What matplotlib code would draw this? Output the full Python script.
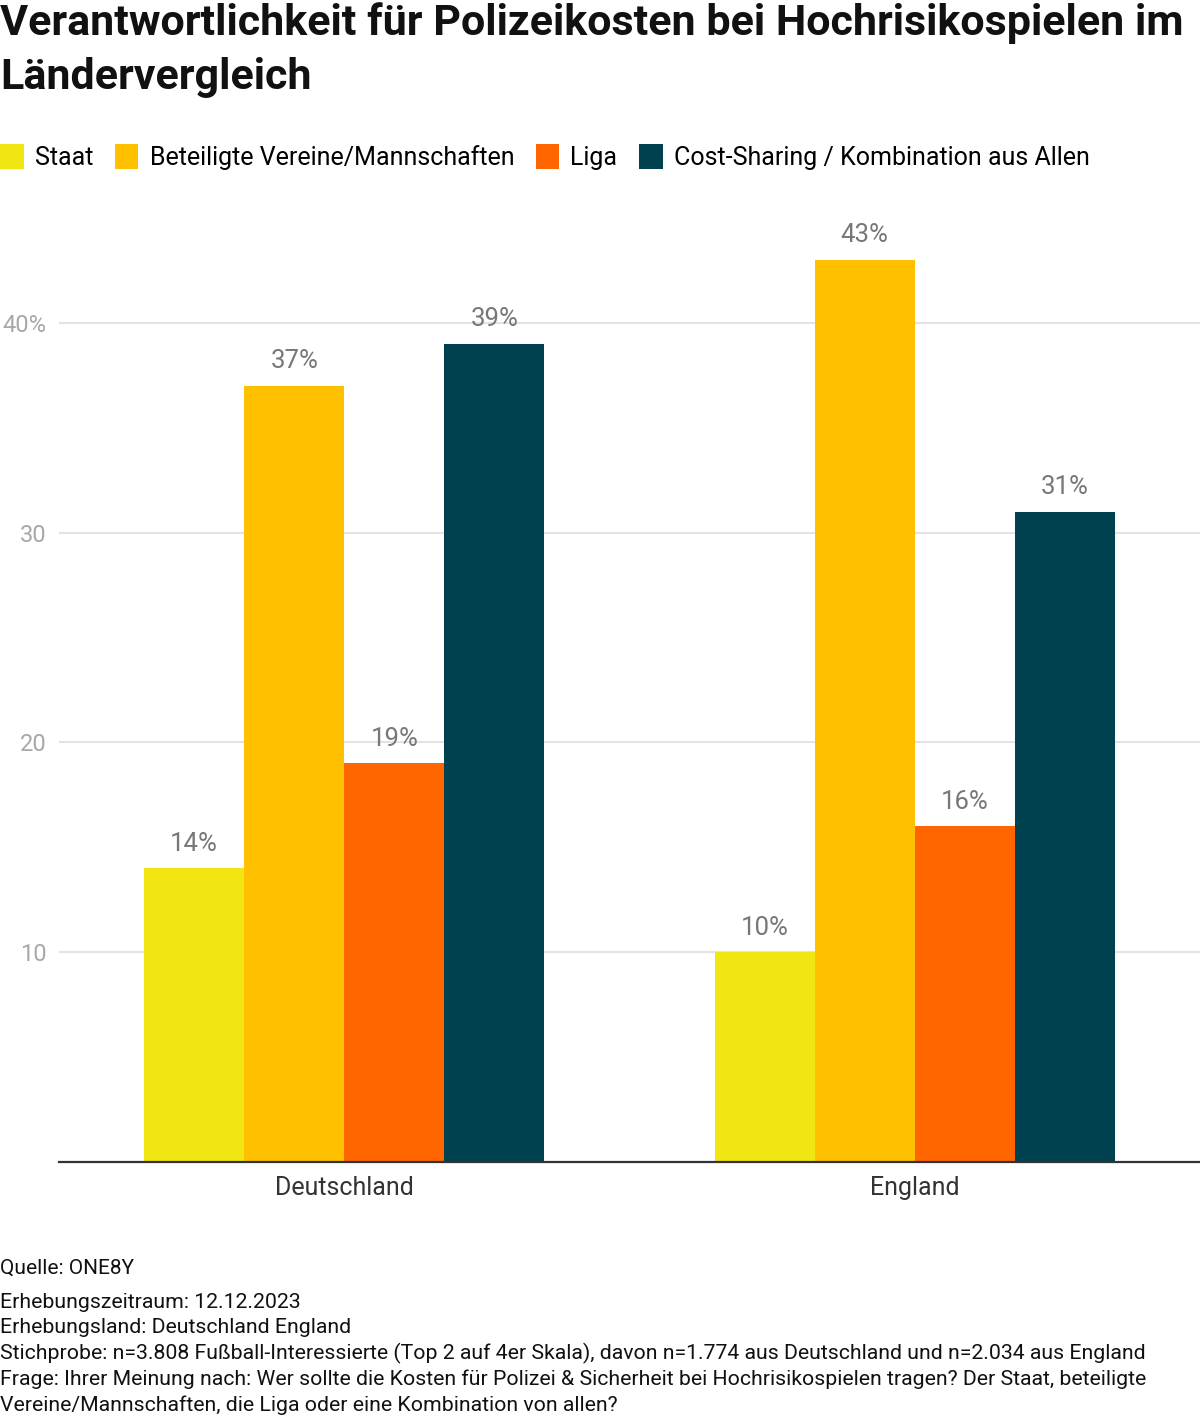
import matplotlib.pyplot as plt
import numpy as np

plt.rcParams['font.family'] = ['Roboto', 'DejaVu Sans']

countries = ["Deutschland", "England"]
series = ["Staat", "Beteiligte Vereine/Mannschaften", "Liga",
          "Cost-Sharing / Kombination aus Allen"]
values = [
    [14, 10],
    [37, 43],
    [19, 16],
    [39, 31],
]
colors = ["#F2E612", "#FFC000", "#FF6600", "#00414F"]
yticks = [10, 20, 30, 40]
ytick_labels = ["10", "20", "30", "40%"]

title = ("Verantwortlichkeit für Polizeikosten bei Hochrisikospielen im\n"
         "Ländervergleich")
source = "Quelle: ONE8Y"
notes = ("Erhebungszeitraum: 12.12.2023\n"
         "Erhebungsland: Deutschland England\n"
         "Stichprobe: n=3.808 Fußball-Interessierte (Top 2 auf 4er Skala), davon n=1.774 aus Deutschland und n=2.034 aus England\n"
         "Frage: Ihrer Meinung nach: Wer sollte die Kosten für Polizei & Sicherheit bei Hochrisikospielen tragen? Der Staat, beteiligte\n"
         "Vereine/Mannschaften, die Liga oder eine Kombination von allen?")

W, H = 1200, 1422
fig = plt.figure(figsize=(W / 100, H / 100), dpi=100)
ax = fig.add_axes([59 / W, 1 - 1162 / H, 1 - 59 / W, (1162 - 218) / H])

x = np.arange(len(countries))
width = 0.1754
handles = []
for i, (name, vals, col) in enumerate(zip(series, values, colors)):
    offs = (i - 1.5) * width
    bars = ax.bar(x + offs, vals, width, color=col, label=name, zorder=2)
    ax.bar_label(bars, labels=[f"{v}%" for v in vals], padding=9,
                 fontsize=18.5, color="#777777")
    handles.append(bars)

ax.set_xlim(-0.5, 1.5)
ax.set_ylim(0, 45)
ax.set_yticks(yticks)
ax.set_yticklabels(ytick_labels)
ax.set_xticks(x)
ax.set_xticklabels(countries)
ax.grid(axis="y", color="#E3E3E3", lw=1.5, zorder=0)
for s in ["top", "right", "left"]:
    ax.spines[s].set_visible(False)
ax.spines["bottom"].set_color("#333333")
ax.spines["bottom"].set_linewidth(1.6)
ax.tick_params(axis="y", length=0, pad=9, labelsize=17, labelcolor="#A8A8A8")
ax.tick_params(axis="x", length=0, pad=10, labelsize=18, labelcolor="#333333")

fig.text(0, 1 - 2 / H, title, ha="left", va="top", fontsize=31,
         fontweight="bold", color="#111111", linespacing=1.42)

fig.legend(handles=handles, loc="upper left", bbox_to_anchor=(0, 1 - 144 / H),
           ncol=4, frameon=False, fontsize=18, handlelength=0.95,
           handleheight=1.15, handletextpad=0.45, columnspacing=0.85,
           borderpad=0, borderaxespad=0)

fig.text(0, 1 - 1268 / H, source, ha="left", va="center", fontsize=15,
         color="#111111")
fig.text(0, 1 - 1293 / H, notes, ha="left", va="top", fontsize=15.3,
         color="#111111", linespacing=1.38)

fig.savefig("out.png", dpi=100)
